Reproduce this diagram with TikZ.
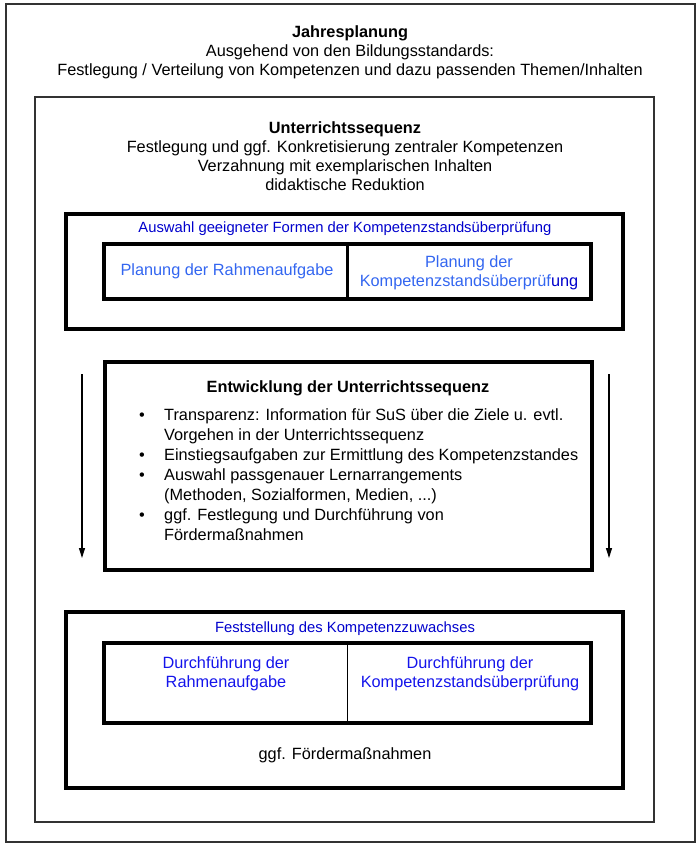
\documentclass[tikz,border=0pt]{standalone}
\usepackage{fontspec}
\setmainfont{Liberation Sans}
\usetikzlibrary{arrows.meta}
\definecolor{hdrblue}{RGB}{0,0,204}
\definecolor{cellblue}{RGB}{51,102,240}
\definecolor{durchblue}{RGB}{20,20,235}
\definecolor{framegray}{RGB}{50,50,50}
\begin{document}
\begin{tikzpicture}[x=1pt,y=-1pt,
  txt/.style={inner sep=0pt,align=center,font=\fontsize{16.3}{19}\selectfont},
  small/.style={inner sep=0pt,align=center,font=\fontsize{14.8}{19.5}\selectfont},
  thinframe/.style={draw=framegray,line width=1.4pt},
  thickframe/.style={draw=black,line width=3.5pt},
  flow/.style={line width=1.2pt,-{Triangle[width=6pt,length=10pt]}}]
\useasboundingbox (0,0) rectangle (700,846);
% frames
\draw[thinframe] (6,4) rectangle (695,842);
\draw[thinframe] (35,97) rectangle (654,822);
\draw[thickframe] (66,214) rectangle (623,329);
\draw[thickframe] (104,244) rectangle (591,299);
\draw[line width=3pt] (347,244) -- (347,299);
\draw[line width=4pt] (105,362) rectangle (592,570);
\draw[thickframe] (66,612) rectangle (623,788);
\draw[thickframe] (104,643) rectangle (591,723);
\draw[line width=1pt] (347,643) -- (347,723);
% top text
\node[txt] (jahr) at (350,52) {\textbf{Jahresplanung}\\Ausgehend von den Bildungsstandards:\\Festlegung / Verteilung von Kompetenzen und dazu passenden Themen/Inhalten};
\node[txt] (seq) at (345,156) {\textbf{Unterrichtssequenz}\\Festlegung und ggf. Konkretisierung zentraler Kompetenzen\\Verzahnung mit exemplarischen Inhalten\\didaktische Reduktion};
% Auswahl box
\node[small,text=hdrblue] (auswahl) at (345,229) {Auswahl geeigneter Formen der Kompetenzstandsüberprüfung};
\node[txt,text=cellblue] (planR) at (227,271) {Planung der Rahmenaufgabe};
\node[txt,text=cellblue] (planK) at (469,273) {Planung der\\Kompetenzstandsüberprüf\textcolor{hdrblue}{ung}};
% Entwicklung box
\node[txt] (entw) at (348,388) {\textbf{Entwicklung der Unterrichtssequenz}};
\node[anchor=north west,inner sep=0pt,font=\fontsize{16.3}{20}\selectfont] (list) at (139,406)
 {\begin{tabular}{@{}p{25pt}@{}l@{}}
  • & Transparenz: Information für SuS über die Ziele u. evtl.\\
    & Vorgehen in der Unterrichtssequenz\\
  • & Einstiegsaufgaben zur Ermittlung des Kompetenzstandes\\
  • & Auswahl passgenauer Lernarrangements\\
    & (Methoden, Sozialformen, Medien, ...)\\
  • & ggf. Festlegung und Durchführung von\\
    & Fördermaßnahmen
  \end{tabular}};
% arrows
\coordinate (la) at (82,374);
\coordinate (lb) at (82,558);
\coordinate (ra) at (609,374);
\coordinate (rb) at (609,558);
\draw[flow] (la) -- (lb);
\draw[flow] (ra) -- (rb);
% Feststellung box
\node[small,text=hdrblue] (fest) at (345,629) {Feststellung des Kompetenzzuwachses};
\node[txt,text=durchblue] (durchR) at (226,674) {Durchführung der\\Rahmenaufgabe};
\node[txt,text=durchblue] (durchK) at (470,674) {Durchführung der\\Kompetenzstandsüberprüfung};
\node[txt] (foerd) at (345,755) {ggf. Fördermaßnahmen};
\end{tikzpicture}
\end{document}
